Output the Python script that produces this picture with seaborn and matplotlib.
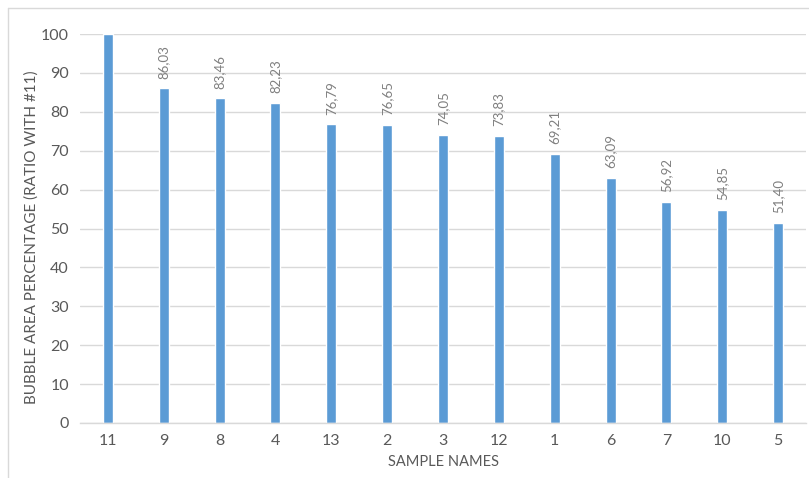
import matplotlib
matplotlib.use("Agg")
import matplotlib.pyplot as plt
from matplotlib.lines import Line2D
import seaborn as sns
import pandas as pd

samples = ["11", "9", "8", "4", "13", "2", "3", "12", "1", "6", "7", "10", "5"]
area_pct = [100.00, 86.03, 83.46, 82.23, 76.79, 76.65, 74.05, 73.83, 69.21, 63.09, 56.92, 54.85, 51.40]
yticks = [0, 10, 20, 30, 40, 50, 60, 70, 80, 90, 100]

df = pd.DataFrame({"sample": samples, "pct": area_pct})

sns.set_theme(style="white")
plt.rcParams["font.family"] = ["Lato", "DejaVu Sans"]

W, H = 809, 478
fig = plt.figure(figsize=(W / 100, H / 100), dpi=100)
fig.patch.set_facecolor("white")

# chart frame
frame_col = "#D9D9D9"
fig.add_artist(Line2D([8 / W, 1.0], [1 - 8 / H, 1 - 8 / H], color=frame_col, lw=1.0, transform=fig.transFigure))
fig.add_artist(Line2D([8 / W, 8 / W], [0, 1 - 8 / H], color=frame_col, lw=1.0, transform=fig.transFigure))

ax = fig.add_axes([80 / W, 1 - 423 / H, (806 - 80) / W, (423 - 34) / H])
sns.barplot(data=df, x="sample", y="pct", order=samples, color="#5B9BD5",
            saturation=1, width=0.18, ax=ax)

ax.set_ylim(0, 100)
ax.set_xlim(-0.5, len(samples) - 0.5)
ax.set_yticks(yticks)
ax.set_yticklabels([str(t) for t in yticks])
ax.yaxis.grid(True, color="#D9D9D9", lw=1.0)
ax.set_axisbelow(True)
for side in ["top", "right", "left"]:
    ax.spines[side].set_visible(False)
ax.spines["bottom"].set_color("#D9D9D9")
ax.spines["bottom"].set_linewidth(1.0)
ax.tick_params(axis="both", length=0, colors="#595959", labelsize=11.5)
ax.tick_params(axis="y", pad=8)
ax.tick_params(axis="x", pad=8)

ax.set_xlabel("SAMPLE NAMES", fontsize=10.5, color="#595959", labelpad=5)
ax.set_ylabel("BUBBLE AREA PERCENTAGE (RATIO WITH #11)", fontsize=11, color="#595959")
ax.yaxis.set_label_coords(-0.057, 0.478)

# value labels above bars (first bar reaches the top of the plot and carries none)
for i, v in enumerate(area_pct):
    if v >= 100:
        continue
    ax.annotate(f"{v:.2f}".replace(".", ","), (i, v), xytext=(0, 7), textcoords="offset points",
                rotation=90, ha="center", va="bottom", fontsize=9.5, color="#7F7F7F")

fig.savefig("out.png", dpi=100, facecolor="white")
